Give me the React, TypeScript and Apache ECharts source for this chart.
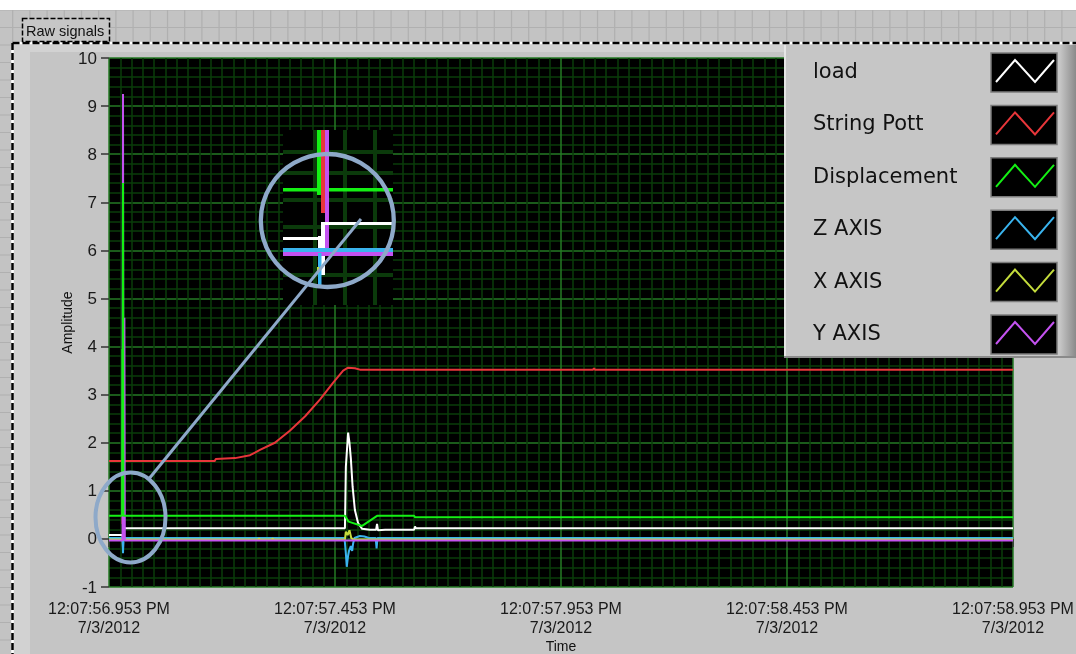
import React, { useEffect, useRef } from "react";
import * as echarts from "echarts";

// ---------- data ----------
const xTickValues = [0, 0.5, 1, 1.5, 2];
const xTickLabels = [
  "12:07:56.953 PM\n7/3/2012",
  "12:07:57.453 PM\n7/3/2012",
  "12:07:57.953 PM\n7/3/2012",
  "12:07:58.453 PM\n7/3/2012",
  "12:07:58.953 PM\n7/3/2012",
];
const seriesNames = ["load", "String Pott", "Displacement", "Z AXIS", "X AXIS", "Y AXIS"];
const seriesColors = ["#ffffff", "#e8363a", "#14f014", "#3ab4ee", "#c4dc3c", "#c452f0"];
const seriesZ = [3, 4, 10, 5, 6, 7];

// [seconds after 12:07:56.953 PM, amplitude]
const loadData = [
  [0, 0.08], [0.03, 0.08], [0.031, -0.2], [0.032, 0.22], [0.522, 0.22], [0.524, 1.5],
  [0.529, 2.21], [0.532, 2.0], [0.535, 1.68], [0.539, 1.08], [0.544, 0.6], [0.551, 0.33],
  [0.56, 0.21], [0.577, 0.19], [0.591, 0.19], [0.593, 0.31], [0.595, 0.18], [0.611, 0.19],
  [0.675, 0.19], [0.677, 0.26], [0.679, 0.22], [2, 0.22],
];
const stringPottData = [
  [0, 1.62], [0.029, 1.62], [0.03, 0.31], [0.031, 1.62], [0.234, 1.62], [0.236, 1.66],
  [0.279, 1.68], [0.312, 1.74], [0.334, 1.85], [0.367, 2.0], [0.4, 2.25], [0.434, 2.55],
  [0.467, 2.9], [0.496, 3.25], [0.518, 3.5], [0.529, 3.56], [0.544, 3.55], [0.555, 3.52],
  [1.071, 3.52], [1.073, 3.55], [1.075, 3.52], [2, 3.52],
];
const displacementData = [
  [0, 0.48], [0.029, 0.48], [0.0295, 3.95], [0.03, 0.48], [0.031, 7.4], [0.032, 0.48],
  [0.522, 0.48], [0.53, 0.36], [0.56, 0.27], [0.593, 0.48], [0.675, 0.48], [0.677, 0.45], [2, 0.45],
];
const zAxisData = [
  [0, 0.02], [0.03, 0.02], [0.031, -0.3], [0.032, 0.02], [0.521, 0.02], [0.524, -0.3],
  [0.526, -0.58], [0.529, -0.35], [0.531, -0.25], [0.535, -0.15], [0.538, -0.25], [0.54, -0.1],
  [0.543, 0.02], [0.555, 0.06], [0.565, 0.05], [0.575, 0.02], [0.59, 0.02], [0.592, -0.2],
  [0.594, 0.02], [2, 0.02],
];
const xAxisData = [
  [0, -0.01], [0.33, -0.01], [0.332, 0.01], [0.334, -0.01], [0.36, -0.01], [0.362, 0.01],
  [0.364, -0.01], [0.522, -0.01], [0.524, 0.15], [0.528, 0.08], [0.532, 0.18], [0.536, 0.02],
  [0.54, -0.01], [2, -0.01],
];
const yAxisData = [
  [0, -0.035], [0.03, -0.035], [0.031, 9.25], [0.032, -0.035], [0.034, 4.6], [0.035, -0.035], [2, -0.035],
];
const allData = [loadData, stringPottData, displacementData, zAxisData, xAxisData, yAxisData];

const ANNOT = "#8ea9c9";

function buildGraphics() {
  const g: any[] = [];
  // page background
  g.push({ type: "rect", z: -10, shape: { x: 0, y: 0, width: 1076, height: 654 }, style: { fill: "#c3c3c3" } });
  for (let k = 0; k < 64; k++) {
    const x = 12.7 + 17.2 * k;
    g.push({ type: "line", z: -9, shape: { x1: x, y1: 10, x2: x, y2: 654 }, style: { stroke: "#b0b0b0", lineWidth: 1.2 } });
  }
  for (let k = 0; k < 38; k++) {
    const y = 10 + 17.5 * k;
    g.push({ type: "line", z: -9, shape: { x1: 0, y1: y, x2: 1076, y2: y }, style: { stroke: "#b0b0b0", lineWidth: 1.2 } });
  }
  g.push({ type: "rect", z: -9, shape: { x: 0, y: 0, width: 1076, height: 10 }, style: { fill: "#ffffff" } });
  // chart panel
  g.push({ type: "rect", z: -8, shape: { x: 13, y: 44, width: 1063, height: 610 }, style: { fill: "#c5c5c5" } });
  g.push({ type: "rect", z: -8, shape: { x: 13, y: 44, width: 1063, height: 8 }, style: { fill: "#d2d2d2" } });
  g.push({ type: "rect", z: -8, shape: { x: 13, y: 44, width: 17, height: 610 }, style: { fill: "#d2d2d2" } });
  // dashed border
  g.push({ type: "line", z: -7, shape: { x1: 12.5, y1: 43, x2: 1076, y2: 43 }, style: { stroke: "#ffffff", lineWidth: 2.5 } });
  g.push({ type: "line", z: -7, shape: { x1: 12.5, y1: 43, x2: 12.5, y2: 654 }, style: { stroke: "#ffffff", lineWidth: 2.5 } });
  g.push({ type: "line", z: -6, shape: { x1: 12.5, y1: 43, x2: 1076, y2: 43 }, style: { stroke: "#000000", lineWidth: 2.5, lineDash: [7, 3] } });
  g.push({ type: "line", z: -6, shape: { x1: 12.5, y1: 43, x2: 12.5, y2: 654 }, style: { stroke: "#000000", lineWidth: 2.5, lineDash: [7, 3] } });
  // label box
  g.push({ type: "rect", z: -6, shape: { x: 22.5, y: 18.5, width: 87, height: 23 }, style: { fill: "#c6c6c6", stroke: "#000", lineWidth: 1.5, lineDash: [5, 2] } });
  g.push({
    type: "text", z: -5, x: 26, y: 31,
    style: { text: "Raw signals", fill: "#111", font: "14.5px 'Liberation Sans'", textAlign: "left", textVerticalAlign: "middle" },
  });

  // legend box
  g.push({ type: "rect", z: 50, shape: { x: 784, y: 45, width: 292, height: 312 }, style: { fill: "#c6c6c6" } });
  g.push({
    type: "rect", z: 51, shape: { x: 1060, y: 45, width: 16, height: 312 },
    style: { fill: { type: "linear", x: 0, y: 0, x2: 1, y2: 0, colorStops: [{ offset: 0, color: "#c6c6c6" }, { offset: 1, color: "#8a8a8a" }] } },
  });
  g.push({ type: "line", z: 51, shape: { x1: 785, y1: 45, x2: 785, y2: 357 }, style: { stroke: "#e6e6e6", lineWidth: 2 } });
  g.push({ type: "line", z: 51, shape: { x1: 784, y1: 357, x2: 1076, y2: 357 }, style: { stroke: "#8a8a8a", lineWidth: 2 } });
  for (let i = 0; i < seriesNames.length; i++) {
    const top = 53 + 52.4 * i;
    g.push({
      type: "text", z: 52, x: 813, y: top + 18,
      style: { text: seriesNames[i], fill: "#111111", font: "21px 'DejaVu Sans'", textAlign: "left", textVerticalAlign: "middle" },
    });
    g.push({ type: "rect", z: 52, shape: { x: 991, y: top, width: 66, height: 39 }, style: { fill: "#000", stroke: "#7c7c7c", lineWidth: 1.5 } });
    g.push({
      type: "polyline", z: 53,
      shape: { points: [[996, top + 29], [1015, top + 7], [1035, top + 29], [1054, top + 7]] },
      style: { stroke: seriesColors[i], lineWidth: 2, fill: null },
    });
  }

  // inset (magnified view)
  const Z = 100;
  g.push({ type: "rect", z: Z, shape: { x: 283, y: 130, width: 110, height: 175 }, style: { fill: "#000" } });
  for (const y of [152, 173, 200, 227, 275]) {
    g.push({ type: "rect", z: Z + 1, shape: { x: 283, y: y - 2, width: 110, height: 4 }, style: { fill: "#0b3a0b" } });
  }
  for (const x of [315, 345, 375]) {
    g.push({ type: "rect", z: Z + 1, shape: { x: x - 2, y: 130, width: 4, height: 175 }, style: { fill: "#0b3a0b" } });
  }
  const insetRects: [number, number, number, number, string][] = [
    [283, 188, 110, 3.5, "#14f014"],
    [317, 130, 4, 65, "#14f014"],
    [321, 130, 4, 83, "#e8363a"],
    [325, 130, 4, 123, "#c452f0"],
    [322, 222, 71, 3, "#ffffff"],
    [283, 237, 39, 3, "#ffffff"],
    [318, 236, 7, 21, "#ffffff"],
    [321, 222, 4, 53, "#ffffff"],
    [283, 248, 110, 4, "#3ab4ee"],
    [283, 252, 110, 4, "#c452f0"],
    [318, 253, 3.5, 32, "#3ab4ee"],
    [317, 267, 2, 5, "#c4dc3c"],
  ];
  for (const [x, y, w, h, c] of insetRects) {
    g.push({ type: "rect", z: Z + 2, shape: { x, y, width: w, height: h }, style: { fill: c } });
  }
  g.push({ type: "circle", z: Z + 5, shape: { cx: 327.3, cy: 220.5, r: 66.5 }, style: { fill: null, stroke: ANNOT, lineWidth: 4.3 } });
  g.push({ type: "ellipse", z: Z + 5, shape: { cx: 130.5, cy: 517.5, rx: 35, ry: 45 }, style: { fill: null, stroke: ANNOT, lineWidth: 4 } });
  g.push({ type: "line", z: Z + 5, shape: { x1: 148, y1: 480, x2: 361, y2: 219 }, style: { stroke: ANNOT, lineWidth: 3 } });
  return g;
}

export default function App() {
  const ref = useRef<HTMLDivElement>(null);
  useEffect(() => {
    const chart = echarts.init(ref.current!, null, { renderer: "svg" });
    const tickFont = "Liberation Sans";
    const option: any = {
      animation: false,
      backgroundColor: "transparent",
      grid: {
        left: 109, top: 58, width: 904, height: 529, show: true, backgroundColor: "#000000", borderWidth: 0,
        containLabel: false, outerBoundsMode: "none",
      },
      xAxis: {
        type: "value",
        min: 0,
        max: 2,
        interval: 0.5,
        name: "Time",
        nameLocation: "middle",
        nameGap: 52,
        nameMoveOverlap: false,
        nameTextStyle: { fontFamily: tickFont, fontSize: 14, color: "#111" },
        axisLine: { show: false },
        axisTick: { show: true, length: 8, lineStyle: { color: "#333", width: 1.5 } },
        axisLabel: {
          margin: 12,
          fontFamily: tickFont,
          fontSize: 16,
          lineHeight: 19,
          color: "#1a1a1a",
          showMinLabel: true,
          showMaxLabel: true,
          hideOverlap: false,
          formatter: (v: number) => {
            const i = xTickValues.findIndex((t) => Math.abs(t - v) < 1e-6);
            return i >= 0 ? xTickLabels[i] : "";
          },
        },
        splitLine: { show: true, lineStyle: { color: "#247a24", width: 1.5 } },
        minorTick: { show: false, splitNumber: 20 },
        minorSplitLine: { show: true, lineStyle: { color: "#0a3c0a", width: 1.5 } },
      },
      yAxis: {
        type: "value",
        min: -1,
        max: 10,
        interval: 1,
        name: "Amplitude",
        nameLocation: "middle",
        nameGap: 35,
        nameMoveOverlap: false,
        nameRotate: 90,
        nameTextStyle: { fontFamily: tickFont, fontSize: 14, color: "#111" },
        axisLine: { show: false },
        axisTick: { show: true, length: 8, lineStyle: { color: "#333", width: 1.5 } },
        axisLabel: { margin: 12, fontFamily: tickFont, fontSize: 17, color: "#1a1a1a" },
        splitLine: { show: true, lineStyle: { color: "#247a24", width: 1.5 } },
        minorTick: { show: false, splitNumber: 5 },
        minorSplitLine: { show: true, lineStyle: { color: "#0a3c0a", width: 1.5 } },
      },
      series: seriesNames.map((name, i) => ({
        type: "line",
        name,
        data: allData[i],
        showSymbol: false,
        symbol: "none",
        z: seriesZ[i],
        lineStyle: { color: seriesColors[i], width: 2 },
        itemStyle: { color: seriesColors[i] },
      })),
      graphic: buildGraphics(),
    };
    chart.setOption(option);
    return () => chart.dispose();
  }, []);
  return <div ref={ref} style={{ position: "fixed", left: 0, top: 0, width: 1076, height: 654 }} />;
}
